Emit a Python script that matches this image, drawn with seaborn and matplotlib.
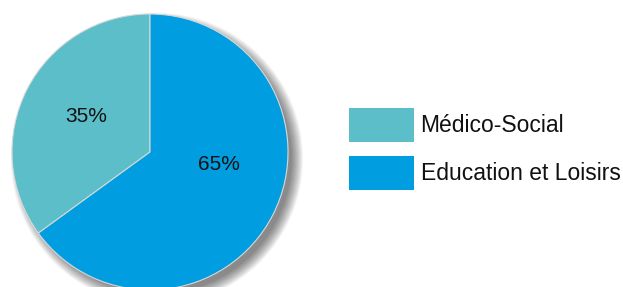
import matplotlib
matplotlib.use("Agg")
import matplotlib.pyplot as plt
from matplotlib.patches import Circle
import seaborn as sns

categories = ["Médico-Social", "Education et Loisirs"]
values = [35, 65]
pct_labels = ["35%", "65%"]
colors = ["#5BBEC8", "#009EE0"]

sns.set_theme(style="white")
plt.rcParams["font.family"] = ["Liberation Sans", "DejaVu Sans"]

W, H = 623, 287
fig = plt.figure(figsize=(W / 100, H / 100), dpi=100)
fig.patch.set_facecolor("white")
ax = fig.add_axes([0, 0, 1, 1])

cx, cy, rpx = 150, 152, 138

# soft drop shadow toward the lower right
n = 20
for i in range(n):
    ax.add_patch(Circle((0.05, -0.05), 0.97 + 0.09 * (1 - i / n),
                        facecolor="black", edgecolor="none",
                        alpha=0.028, zorder=0))

wedges, _ = ax.pie(values, colors=colors, startangle=90, counterclock=True,
                   radius=1.0,
                   wedgeprops=dict(edgecolor="#d8d8d8", linewidth=0.8))
for w in wedges:
    w.set_zorder(2)

# percentage labels (placement similar to the original office chart)
label_pos = [(-0.46, 0.26), (0.50, -0.09)]
for (lx, ly), t in zip(label_pos, pct_labels):
    ax.text(lx, ly, t, ha="center", va="center", fontsize=15, color="#111111", zorder=3)

ax.set_xlim(-cx / rpx, (W - cx) / rpx)
ax.set_ylim((cy - H) / rpx, cy / rpx)
ax.set_aspect("equal", adjustable="box")
ax.axis("off")

leg = fig.legend(wedges, categories, loc="upper left",
                 bbox_to_anchor=(344 / W, 1 - 103 / H), frameon=False,
                 fontsize=16.5, handlelength=2.84, handleheight=1.91,
                 handletextpad=0.3, labelspacing=0.62, borderpad=0.2,
                 borderaxespad=0)
for h in leg.legend_handles:
    h.set_edgecolor("none")
for t in leg.get_texts():
    t.set_color("#111111")

fig.savefig("out.png", dpi=100, facecolor="white")
